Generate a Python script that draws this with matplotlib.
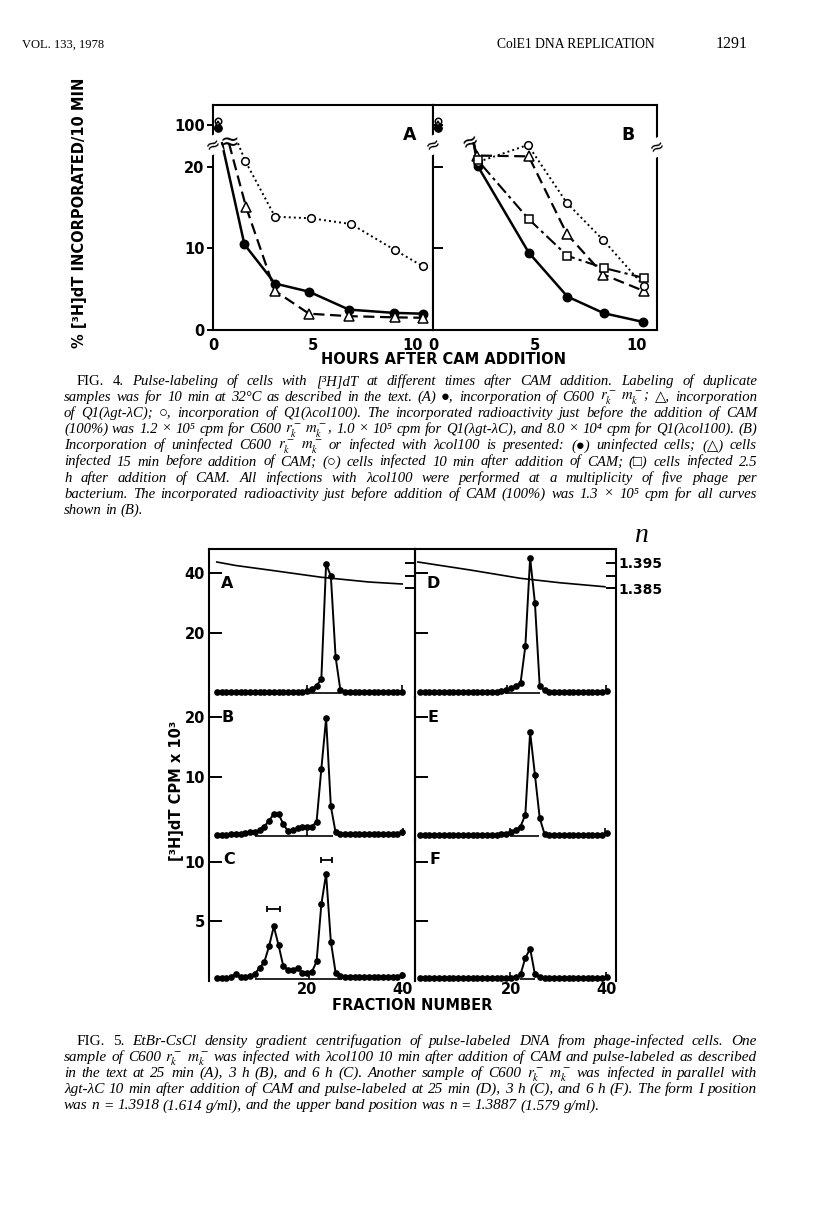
import matplotlib
matplotlib.use("Agg")
import matplotlib.pyplot as plt
import matplotlib.transforms as mtransforms

W, H = 816, 1231
plt.rcParams["font.family"] = ["DejaVu Sans"]
plt.rcParams["mathtext.fontset"] = "stix"
plt.rcParams["axes.linewidth"] = 1.5
SERIF = ["Liberation Serif", "DejaVu Serif", "DejaVu Sans"]
LET = dict(fontsize=10.5, fontweight="bold")   # lettering-guide style on the plots

# ---------- Fig. 4: % [3H]dT incorporated / 10 min vs hours after CAM ----------
Y100 = 25.2    # plotted height of the 100% level (above the axis break)
BRK = 22.9     # height of the break the curves come out of
t_zero = 0.25  # time-zero (100%) samples

a_fill_h = [1.57, 3.1, 4.8, 6.8, 9.05, 10.5]
a_fill = [10.5, 5.7, 4.7, 2.5, 2.1, 2.0]
a_tri_h = [1.65, 3.1, 4.8, 6.8, 9.1, 10.5]
a_tri = [15.1, 4.8, 2.0, 1.7, 1.55, 1.5]
a_circ_h = [1.62, 3.1, 4.9, 6.9, 9.1, 10.5]
a_circ = [20.7, 13.9, 13.7, 13.0, 9.8, 7.8]
a_start = {"fill": 0.45, "tri": 0.8, "circ": 1.25}

b_fill_h = [2.2, 4.7, 6.6, 8.4, 10.3]
b_fill = [20.1, 9.5, 4.1, 2.05, 1.0]
b_tri_h = [2.15, 4.7, 6.57, 8.37, 10.34]
b_tri = [21.4, 21.3, 11.8, 6.8, 4.8]
b_circ_h = [2.2, 4.66, 6.57, 8.37, 10.34]
b_circ = [20.6, 22.7, 15.6, 11.0, 5.45]
b_sq_h = [2.2, 4.7, 6.6, 8.4, 10.34]
b_sq = [20.8, 13.6, 9.1, 7.6, 6.4]
b_start = 2.0

# ---------- Fig. 5: CPM x 10^3 per fraction ----------
frac = list(range(1, 41))
cpm_A = [0.3, 0.3, 0.3, 0.3, 0.3, 0.3, 0.3, 0.3, 0.3, 0.3, 0.3, 0.3, 0.3, 0.3, 0.3, 0.3, 0.3, 0.3,
         0.5, 0.8, 1.3, 2.4, 4.7, 43.0, 39.0, 12.0, 1.0, 0.5,
         0.3, 0.3, 0.3, 0.3, 0.3, 0.3, 0.3, 0.3, 0.3, 0.3, 0.3, 0.5]
cpm_B = [0.2, 0.2, 0.2, 0.3, 0.3, 0.4, 0.5, 0.6, 0.7, 1.0, 1.6, 2.6, 3.7, 3.7, 2.0, 0.8, 1.0, 1.3,
         1.5, 1.5, 1.6, 2.4, 11.3, 19.8, 5.0, 0.6, 0.4,
         0.3, 0.3, 0.3, 0.3, 0.3, 0.3, 0.3, 0.3, 0.3, 0.3, 0.3, 0.3, 0.6]
cpm_C = [0.1, 0.1, 0.1, 0.2, 0.45, 0.15, 0.15, 0.25, 0.45, 0.95, 1.45, 2.8, 4.5, 2.9, 1.1, 0.8, 0.8,
         0.95, 0.55, 0.55, 0.6, 1.5, 6.4, 9.0, 3.2, 0.55, 0.25,
         0.2, 0.2, 0.2, 0.2, 0.2, 0.2, 0.2, 0.2, 0.2, 0.2, 0.2, 0.2, 0.35]
cpm_D = [0.3, 0.3, 0.3, 0.3, 0.3, 0.3, 0.3, 0.3, 0.3, 0.3, 0.3, 0.3, 0.3, 0.3, 0.3, 0.3,
         0.4, 0.6, 1.1, 1.6, 2.4, 3.3, 15.6, 45.0, 30.0, 2.2, 0.9, 0.5,
         0.3, 0.3, 0.3, 0.3, 0.3, 0.3, 0.3, 0.3, 0.3, 0.3, 0.3, 0.8]
cpm_E = [0.2, 0.2, 0.2, 0.2, 0.2, 0.2, 0.2, 0.2, 0.2, 0.2, 0.2, 0.2, 0.2, 0.2, 0.2, 0.2, 0.2,
         0.3, 0.4, 0.7, 1.0, 1.6, 3.6, 17.5, 10.3, 3.0, 0.35,
         0.2, 0.2, 0.2, 0.2, 0.2, 0.2, 0.2, 0.2, 0.2, 0.2, 0.2, 0.2, 0.5]
cpm_F = [0.1, 0.1, 0.1, 0.1, 0.1, 0.1, 0.1, 0.1, 0.1, 0.1, 0.1, 0.1, 0.1, 0.1, 0.1, 0.1, 0.1, 0.1,
         0.1, 0.1, 0.15, 0.4, 1.8, 2.6, 0.4, 0.2,
         0.1, 0.1, 0.1, 0.1, 0.1, 0.1, 0.1, 0.1, 0.1, 0.1, 0.1, 0.1, 0.1, 0.2]
# integration baselines (from, to) and gradient marks drawn on each panel
base_seg = {"A": (19.9, 26.9), "B": (9.0, 25.5), "C": (9.05, 27.3),
            "D": (18.8, 26.0), "E": (19.8, 25.9), "F": (21.9, 25.0)}
marks = {"A": [19.9, 40], "B": [19.9, 40.2], "C": [20.3, 40],
         "D": [19.2, 39.8], "E": [19.8, 39.6], "F": [19.9, 39.9]}
mark_h = {"A": 2.7, "B": 1.3, "C": 0.6, "D": 2.7, "E": 1.3, "F": 0.6}
# band positions in C
bar_frac = [12.9, 24.05]
bar_cpm = [6.0, 10.2]
bar_half = [1.4, 1.15]
# refractive index across the gradient (A and D)
n_frac_A = [1, 5, 12, 23, 33, 40]
n_A = [1.3954, 1.3940, 1.3922, 1.3893, 1.3874, 1.3866]
n_frac_D = [0.6, 11.5, 21.9, 30.2, 39.6]
n_D = [1.3954, 1.3922, 1.3889, 1.3871, 1.3855]

cap4 = [
    "FIG. 4. Pulse-labeling of cells with [³H]dT at different times after CAM addition. Labeling of duplicate",
    "samples was for 10 min at 32°C as described in the text. (A) ●, incorporation of C600 $r_k^-$ $m_k^-$; △, incorporation",
    "of Q1(λgt-λC); ○, incorporation of Q1(λcol100). The incorporated radioactivity just before the addition of CAM",
    "(100%) was 1.2 × 10⁵ cpm for C600 $r_k^-$ $m_k^-$, 1.0 × 10⁵ cpm for Q1(λgt-λC), and 8.0 × 10⁴ cpm for Q1(λcol100). (B)",
    "Incorporation of uninfected C600 $r_k^-$ $m_k^-$ or infected with λcol100 is presented: (●) uninfected cells; (△) cells",
    "infected 15 min before addition of CAM; (○) cells infected 10 min after addition of CAM; (□) cells infected 2.5",
    "h after addition of CAM. All infections with λcol100 were performed at a multiplicity of five phage per",
    "bacterium. The incorporated radioactivity just before addition of CAM (100%) was 1.3 × 10⁵ cpm for all curves",
    "shown in (B).",
]
cap5 = [
    "FIG. 5. EtBr-CsCl density gradient centrifugation of pulse-labeled DNA from phage-infected cells. One",
    "sample of C600 $r_k^-$ $m_k^-$ was infected with λcol100 10 min after addition of CAM and pulse-labeled as described",
    "in the text at 25 min (A), 3 h (B), and 6 h (C). Another sample of C600 $r_k^-$ $m_k^-$ was infected in parallel with",
    "λgt-λC 10 min after addition of CAM and pulse-labeled at 25 min (D), 3 h (C), and 6 h (F). The form I position",
    "was n = 1.3918 (1.614 g/ml), and the upper band position was n = 1.3887 (1.579 g/ml).",
]

fig = plt.figure(figsize=(W / 100, H / 100), dpi=100)
RND = fig.canvas.get_renderer()


def rect(l, t, r, b):
    return [l / W, 1 - b / H, (r - l) / W, (b - t) / H]


def words_at(line, i, y, fs):
    return [fig.text(0, y, w, fontsize=fs, family=SERIF, va="baseline",
                     style="normal" if (i == 0 and j < 2) else "italic")
            for j, w in enumerate(line.split(" "))]


def fit_size(lines, x_left, x_right, indent, size):
    # largest common size at which every justified line still fits
    fs = size
    for i, line in enumerate(lines[:-1]):
        span = x_right - x_left - (indent if i == 0 else 0)
        while fs > 6:
            arts = words_at(line, i, 0, fs)
            need = sum(a.get_window_extent(RND).width for a in arts) + 0.25 * fs * 100 / 72 * (len(arts) - 1)
            for a in arts:
                a.remove()
            if need <= span:
                break
            fs -= 0.1
    return fs


def caption(lines, top, x_left, x_right, indent, lead=16.1, size=11):
    # justified caption: one text per word, gaps stretched to fill the line
    fs = fit_size(lines, x_left, x_right, indent, size)
    for i, line in enumerate(lines):
        y = 1 - (top + i * lead) / H
        x0 = x_left + (indent if i == 0 else 0)
        arts = words_at(line, i, y, fs)
        wid = [a.get_window_extent(RND).width for a in arts]
        if i == len(lines) - 1:
            gap = 0.25 * fs * 100 / 72
        else:
            gap = (x_right - x0 - sum(wid)) / (len(arts) - 1)
        x = x0
        for a, w in zip(arts, wid):
            a.set_x(x / W)
            x += w + gap


# page header
fig.text(22 / W, 1 - 48 / H, "VOL. 133, 1978", fontsize=9, family=SERIF)
fig.text(497 / W, 1 - 48 / H, "ColE1 DNA REPLICATION", fontsize=9.8, family=SERIF)
fig.text(716 / W, 1 - 48 / H, "1291", fontsize=11.5, family=SERIF)

# ---------- Fig. 4 ----------
ST = {
    "fill": dict(ls="-", lw=1.8, marker="o", mfc="k", ms=6),
    "tri": dict(ls=(0, (5, 2.5)), lw=1.6, marker="^", mfc="w", ms=6.5),
    "circ": dict(ls=(0, (1, 1.6)), lw=1.4, marker="o", mfc="w", ms=5.5),
    "sq": dict(ls=(0, (6, 2, 1.5, 2)), lw=1.5, marker="s", mfc="w", ms=5.5),
}


def series(ax, hx, vals, start, key):
    st = ST[key]
    ax.plot([start] + hx, [BRK] + vals, color="k", ls=st["ls"], lw=st["lw"], zorder=2)
    ax.plot(hx, vals, ls="none", marker=st["marker"], ms=st["ms"], mfc=st["mfc"],
            mec="k", mew=1.1, zorder=3)


def zero_pts(ax, keys):
    # time-zero 100% samples, drawn slightly stacked as in the original
    for k, dy in zip(keys, [4, 0, -3]):
        st = ST[k]
        tr = mtransforms.offset_copy(ax.transData, fig=fig, y=dy, units="dots")
        ax.plot([t_zero], [Y100], ls="none", marker=st["marker"], ms=st["ms"] * 0.85,
                mfc=st["mfc"], mec="k", mew=1.1, transform=tr, clip_on=False, zorder=4)


def brk(ax, x, y, rot=25, size=13):
    ax.text(x, y, "≈", ha="center", va="center", fontsize=size, rotation=rot, clip_on=False,
            bbox=dict(fc="white", ec="none", pad=0), zorder=5)


axA = fig.add_axes(rect(213, 105, 433, 330))
axB = fig.add_axes(rect(433, 105, 657, 330))
for ax in (axA, axB):
    ax.set_xlim(0, 11.0)
    ax.set_ylim(0, 27.6)
    ax.set_xticks([0, 5, 10])
    ax.tick_params(axis="x", length=0, pad=6, labelsize=10.5)
    for lab in ax.get_xticklabels():
        lab.set_fontweight("bold")
axA.set_yticks([0, 10, 20, Y100])
axA.set_yticklabels(["0", "10", "20", "100"], fontweight="bold", fontsize=10.5)
axA.tick_params(axis="y", direction="out", length=4, width=1.4, pad=2)
axB.set_yticks([10, 20, Y100])
axB.tick_params(axis="y", direction="in", length=7, width=1.4, labelleft=False)

series(axA, a_fill_h, a_fill, a_start["fill"], "fill")
series(axA, a_tri_h, a_tri, a_start["tri"], "tri")
series(axA, a_circ_h, a_circ, a_start["circ"], "circ")
zero_pts(axA, ["circ", "tri", "fill"])
series(axB, b_fill_h, b_fill, b_start, "fill")
series(axB, b_tri_h, b_tri, b_start, "tri")
series(axB, b_circ_h, b_circ, b_start, "circ")
series(axB, b_sq_h, b_sq, b_start, "sq")
zero_pts(axB, ["circ", "tri", "fill"])

brk(axA, 0, 22.7)
brk(axB, 0, 22.7)
brk(axB, 11.0, 22.4)
axA.text(0.8, BRK + 0.1, "≈", ha="center", va="center", fontsize=17)
axB.text(1.85, BRK + 0.2, "≈", ha="center", va="center", fontsize=15, rotation=25)
axA.text(9.85, 23.9, "A", ha="center", va="center", fontsize=12.5, fontweight="bold")
axB.text(9.6, 23.9, "B", ha="center", va="center", fontsize=12.5, fontweight="bold")

fig.text(444 / W, 1 - 360 / H, "HOURS AFTER CAM ADDITION", ha="center", va="center", **LET)
fig.text(80 / W, 1 - 213 / H, "% [³H]dT INCORPORATED/10 MIN", ha="center", va="center",
         rotation=90, **LET)

caption(cap4, 385, 64, 757, 13)

# ---------- Fig. 5 ----------
ROWS = [(549, 697), (697, 840), (840, 981)]
YLIMS = [(-1.33, 48), (-0.67, 23.4), (-0.17, 11.9)]
YTICKS = [[20, 40], [10, 20], [5, 10]]
COLS = [(209, 415, (-0.63, 42.7)), (415, 616, (0, 41.9))]
DATA = [["A", "B", "C"], ["D", "E", "F"]]
CPM = {"A": cpm_A, "B": cpm_B, "C": cpm_C, "D": cpm_D, "E": cpm_E, "F": cpm_F}
LPOS = [(0.09, 0.77), (0.09, 0.86), (0.1, 0.86)]

axes5 = {}
for c, (l, r, xl) in enumerate(COLS):
    for k, (t, b) in enumerate(ROWS):
        name = DATA[c][k]
        ax = fig.add_axes(rect(l, t, r, b))
        axes5[name] = ax
        ax.set_xlim(*xl)
        ax.set_ylim(*YLIMS[k])
        ax.spines["bottom"].set_visible(False)
        ax.spines["top"].set_visible(k == 0)
        ax.set_yticks(YTICKS[k])
        ax.tick_params(axis="y", direction="in", length=9, width=1.4, labelleft=(c == 0),
                       labelsize=10.5, pad=3)
        for lab in ax.get_yticklabels():
            lab.set_fontweight("bold")
        if k == 2:
            ax.set_xticks([20, 40])
            ax.tick_params(axis="x", length=0, pad=1, labelsize=10.5)
            for lab in ax.get_xticklabels():
                lab.set_fontweight("bold")
        else:
            ax.set_xticks([])
        ax.patch.set_alpha(0)
        s0, s1 = base_seg[name]
        ax.hlines(0, s0, s1, color="k", lw=1.2, zorder=2)
        ax.vlines(marks[name], 0, mark_h[name], color="k", lw=1.2, zorder=2)
        ax.plot(frac, CPM[name], "-o", color="k", lw=1.4, ms=3.8, clip_on=False, zorder=3)
        ax.text(LPOS[k][0], LPOS[k][1], name, transform=ax.transAxes, ha="center",
                va="center", fontsize=11.5, fontweight="bold")

axes5["C"].errorbar(bar_frac, bar_cpm, xerr=bar_half, fmt="none", ecolor="k",
                    elinewidth=1.3, capsize=2.5, capthick=1.3)

# refractive index scale on the top row
for name, nf, nv in (("A", n_frac_A, n_A), ("D", n_frac_D, n_D)):
    tax = axes5[name].twinx()
    tax.set_ylim(1.3414, 1.4006)
    tax.set_yticks([1.385, 1.390, 1.395])
    for sp in tax.spines.values():
        sp.set_visible(False)
    tax.plot(nf, nv, color="k", lw=1.2)
    if name == "D":
        tax.set_yticklabels(["1.385", "", "1.395"], fontweight="bold")
        tax.tick_params(direction="in", length=7, width=1.4, labelsize=10, pad=2)
    else:
        tax.tick_params(direction="in", length=7, width=1.4, labelright=False)

fig.text(641 / W, 1 - 535 / H, "n", fontsize=20, family=SERIF, style="italic",
         ha="center", va="center")
fig.text(412 / W, 1 - 1005 / H, "FRACTION NUMBER", ha="center", va="center", **LET)
fig.text(177 / W, 1 - 791 / H, "[³H]dT CPM x 10³", ha="center", va="center",
         rotation=90, **LET)

caption(cap5, 1045, 64, 757, 13)

fig.savefig("out.png", dpi=100)
